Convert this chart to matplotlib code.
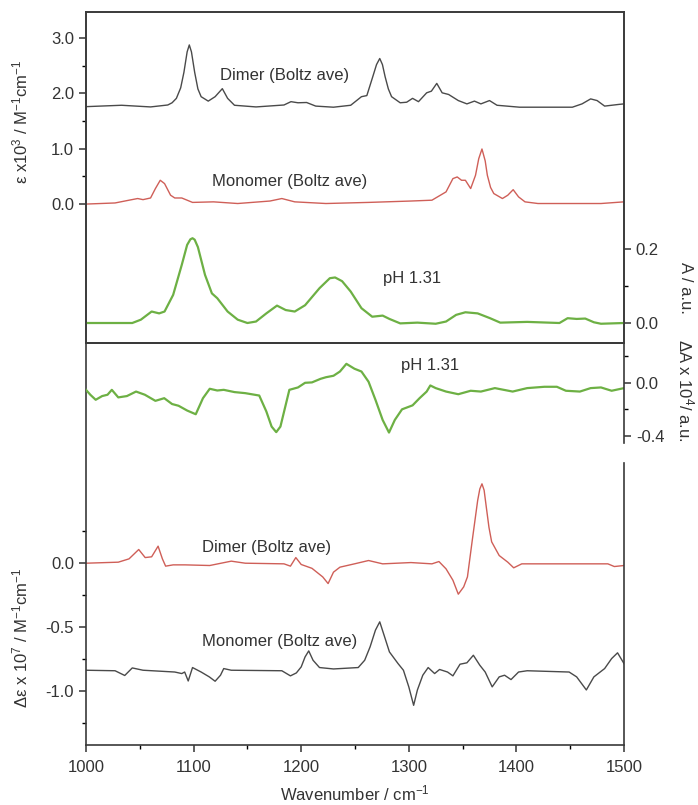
import matplotlib
matplotlib.use('Agg')
from matplotlib import pyplot as plt

plt.rcParams['font.family'] = ['Liberation Sans', 'DejaVu Sans']
plt.rcParams['mathtext.fontset'] = 'custom'
plt.rcParams['mathtext.rm'] = 'Liberation Sans'
plt.rcParams['mathtext.it'] = 'Liberation Sans:italic'

# --- top panel: absorption (eps x 1e3) ---
dimer_abs_x = [1000, 1033, 1060, 1076, 1080, 1084, 1088, 1091, 1094, 1096, 1098, 1101, 1104, 1107, 1113.6,
               1120, 1126.7, 1131.6, 1138, 1158, 1184, 1190.5, 1197, 1205, 1213.5, 1230, 1246, 1256, 1261,
               1266.5, 1270, 1273, 1275.5, 1278, 1281, 1284, 1292, 1298, 1303.5, 1309, 1316.6, 1321, 1326,
               1331, 1337, 1346, 1354, 1361, 1367, 1375, 1382, 1403, 1452, 1461, 1469, 1475, 1482, 1495, 1500]
dimer_abs_y = [1.76, 1.785, 1.755, 1.79, 1.83, 1.91, 2.10, 2.38, 2.75, 2.875, 2.75, 2.38, 2.08, 1.94, 1.86,
               1.94, 2.085, 1.91, 1.785, 1.755, 1.79, 1.85, 1.83, 1.835, 1.77, 1.75, 1.785, 1.94, 1.96,
               2.30, 2.52, 2.63, 2.52, 2.30, 2.08, 1.94, 1.83, 1.84, 1.91, 1.85, 2.01, 2.04, 2.18,
               2.01, 1.98, 1.87, 1.81, 1.86, 1.81, 1.87, 1.785, 1.75, 1.75, 1.81, 1.90, 1.87, 1.77, 1.80, 1.81]

mono_abs_x = [1000, 1027, 1040, 1048, 1053, 1060, 1064.5, 1069, 1073, 1078.6, 1082.5, 1089, 1099,
              1118.5, 1141, 1171, 1182, 1194, 1223, 1262.6, 1302, 1321.5, 1334.6, 1341, 1345, 1349,
              1352.6, 1357.5, 1362, 1365, 1368, 1371, 1373, 1376, 1379, 1387, 1392, 1397, 1402, 1408,
              1420, 1478.6, 1500]
mono_abs_y = [0.0, 0.02, 0.07, 0.10, 0.08, 0.11, 0.28, 0.43, 0.37, 0.16, 0.11, 0.11, 0.03,
              0.04, 0.01, 0.055, 0.10, 0.04, 0.01, 0.03, 0.055, 0.07, 0.22, 0.46, 0.49, 0.43,
              0.43, 0.28, 0.52, 0.82, 0.995, 0.78, 0.52, 0.30, 0.19, 0.10, 0.16, 0.26, 0.13, 0.04,
              0.01, 0.01, 0.04]

# measured absorbance, pH 1.31 (A / a.u.)
ph_abs_x = [1000, 1043, 1051, 1061, 1068, 1073, 1081, 1089, 1094, 1097, 1099, 1101, 1104, 1110.6, 1117,
            1122, 1131.6, 1141, 1150, 1158, 1167.6, 1177.5, 1185.6, 1194, 1203.6, 1217, 1226.6, 1231.5,
            1238, 1246, 1256, 1266, 1275.7, 1282, 1292, 1308, 1325, 1334.6, 1344, 1352.6, 1364,
            1375.5, 1385, 1410, 1440, 1447.6, 1456, 1464, 1472, 1478.6, 1500]
ph_abs_y = [0.0, 0.0, 0.009, 0.031, 0.026, 0.031, 0.076, 0.157, 0.211, 0.226, 0.229, 0.225, 0.205, 0.13,
            0.080, 0.067, 0.031, 0.009, 0.0, 0.004, 0.026, 0.047, 0.035, 0.031, 0.048, 0.094, 0.121, 0.123,
            0.113, 0.085, 0.04, 0.017, 0.020, 0.011, -0.001, 0.001, -0.002, 0.004, 0.022, 0.029, 0.026,
            0.013, 0.001, 0.003, 0.0, 0.013, 0.011, 0.012, 0.002, -0.002, 0.0]

# --- bottom panel: VCD ---
ph_vcd_x = [1000, 1004, 1009, 1015, 1020, 1024, 1030, 1038, 1046.5, 1054.7, 1064.5, 1072.7, 1080,
            1086, 1094, 1102, 1108.7, 1115, 1122, 1128, 1138, 1148, 1161, 1167.6, 1172.5, 1176.8,
            1180.7, 1189, 1197, 1203.6, 1210, 1218, 1223, 1230, 1236, 1242, 1249.5, 1256, 1262.6,
            1269, 1275.7, 1281.6, 1287, 1293.7, 1303.5, 1310, 1316.6, 1320, 1325, 1334.6, 1346,
            1357.5, 1367, 1380, 1396.5, 1410, 1426, 1437.6, 1446, 1459, 1469, 1478.6, 1488.5, 1500]
ph_vcd_y = [-0.053, -0.09, -0.128, -0.10, -0.09, -0.053, -0.11, -0.10, -0.066, -0.09, -0.136, -0.116, -0.16,
            -0.173, -0.209, -0.237, -0.116, -0.045, -0.058, -0.053, -0.07, -0.078, -0.096, -0.216, -0.33, -0.372,
            -0.33, -0.053, -0.035, 0.0, 0.003, 0.03, 0.042, 0.053, 0.085, 0.143, 0.106, 0.085, 0.008,
            -0.128, -0.28, -0.375, -0.28, -0.2, -0.17, -0.116, -0.066, -0.02, -0.04, -0.066, -0.086,
            -0.06, -0.066, -0.04, -0.066, -0.04, -0.03, -0.03, -0.06, -0.066, -0.04, -0.035, -0.06, -0.04]

dimer_vcd_x = [1000, 1030, 1040, 1049, 1055, 1061, 1067, 1071, 1074, 1081, 1092, 1115, 1135, 1148,
               1184, 1190, 1195, 1200, 1210, 1220, 1225, 1230, 1236, 1249.5, 1262.6, 1275.7, 1302,
               1321.5, 1328, 1334.6, 1341, 1346, 1351, 1354.5, 1359, 1364, 1366, 1368, 1370, 1372,
               1374.5, 1377, 1384, 1392, 1397.5, 1405, 1485, 1491, 1500]
dimer_vcd_y = [0.0, 0.008, 0.034, 0.107, 0.044, 0.05, 0.133, 0.034, -0.023, -0.013, -0.013, -0.018, 0.016, 0.0,
               -0.005, -0.023, 0.044, -0.01, -0.04, -0.107, -0.159, -0.07, -0.031, -0.005, 0.021, -0.005, 0.005,
               -0.005, 0.013, -0.044, -0.133, -0.242, -0.185, -0.107, 0.18, 0.49, 0.58, 0.62, 0.57, 0.44,
               0.28, 0.167, 0.06, 0.008, -0.036, -0.005, -0.005, -0.026, -0.018]

mono_vcd_x = [1000, 1027, 1036, 1043, 1053, 1082.5, 1089, 1091.7, 1095, 1099, 1107, 1114.6, 1120, 1125,
              1128, 1135, 1182, 1190, 1195.5, 1200, 1203.6, 1207, 1211, 1217, 1230, 1253, 1259, 1264,
              1269, 1273, 1277, 1282, 1290, 1295, 1300, 1304.5, 1308, 1313, 1318, 1324, 1328.6, 1336,
              1341, 1347.6, 1354, 1360, 1366, 1371, 1377.5, 1384, 1389, 1395, 1402, 1410, 1449, 1456,
              1465, 1472, 1482, 1488.5, 1494, 1500]
mono_vcd_y = [-0.836, -0.84, -0.877, -0.818, -0.836, -0.85, -0.862, -0.85, -0.92, -0.815, -0.85, -0.888, -0.922, -0.875,
              -0.823, -0.836, -0.84, -0.88, -0.857, -0.81, -0.732, -0.685, -0.758, -0.815, -0.826, -0.815, -0.758, -0.654,
              -0.523, -0.458, -0.562, -0.693, -0.784, -0.836, -0.966, -1.11, -0.99, -0.875, -0.815, -0.862, -0.83, -0.85,
              -0.88, -0.789, -0.778, -0.719, -0.797, -0.85, -0.966, -0.888, -0.875, -0.909, -0.85, -0.84, -0.85, -0.888,
              -0.99, -0.888, -0.823, -0.745, -0.70, -0.784]

GREY = '#4a4a4a'
RED = '#cf5f58'
GREEN = '#6db044'
TXT = '#333333'
FS = 12


def style(ax):
    for s in ax.spines.values():
        s.set_color('#3a3a3a')
        s.set_linewidth(1.2)
    ax.tick_params(colors=TXT, labelsize=FS, direction='out', length=5, width=1.1)
    ax.tick_params(which='minor', direction='out', length=3, width=1.0)


fig = plt.figure(figsize=(6.98, 8.05), dpi=100)
ax1 = fig.add_axes([86 / 698, 1 - 343 / 805, 538 / 698, 331 / 805])
ax2 = fig.add_axes([86 / 698, 1 - 745 / 805, 538 / 698, 402 / 805])
ax1r = ax1.twinx()
ax2r = ax2.twinx()

kw = dict(solid_joinstyle='round')
ax1.plot(dimer_abs_x, dimer_abs_y, color=GREY, lw=1.0, **kw)
ax1.plot(mono_abs_x, mono_abs_y, color=RED, lw=1.0, **kw)
ax1r.plot(ph_abs_x, ph_abs_y, color=GREEN, lw=1.6, **kw)

ax2.plot(dimer_vcd_x, dimer_vcd_y, color=RED, lw=1.0, **kw)
ax2.plot(mono_vcd_x, mono_vcd_y, color=GREY, lw=1.0, **kw)
ax2r.plot(ph_vcd_x, ph_vcd_y, color=GREEN, lw=1.6, **kw)

for ax in (ax1, ax1r, ax2, ax2r):
    ax.set_xlim(1000, 1500)
    style(ax)

ax1.set_ylim(-2.51, 3.47)
ax1.set_yticks([0, 1, 2, 3])
ax1.set_yticks([0.5, 1.5, 2.5], minor=True)
ax1.set_yticklabels(['0.0', '1.0', '2.0', '3.0'])
ax1.set_xticks([])
ax1.set_ylabel(r'ε x10$^3$ / M$^{-1}$cm$^{-1}$', fontsize=FS, color=TXT)
ax1.yaxis.set_label_coords(-0.104, 0.668)

ax1r.set_ylim(-0.054, 0.84)
ax1r.set_yticks([0.0, 0.2])
ax1r.set_yticks([0.1], minor=True)
ax1r.set_yticklabels(['0.0', '0.2'])
ax1r.set_ylabel('A / a.u.', fontsize=FS, color=TXT, rotation=-90)
ax1r.yaxis.set_label_coords(1.129, 0.166)

ax2.set_ylim(-1.42, 1.72)
ax2.set_yticks([-1.0, -0.5, 0.0])
ax2.set_yticks([-1.25, -0.75, -0.25, 0.25], minor=True)
ax2.set_yticklabels(['-1.0', '-0.5', '0.0'])
ax2.set_xticks([1000, 1100, 1200, 1300, 1400, 1500])
ax2.set_xticks([1050, 1150, 1250, 1350, 1450], minor=True)
ax2.tick_params(axis='x', pad=6)
ax2.set_xlabel(r'Wavenumber / cm$^{-1}$', fontsize=FS, color=TXT, labelpad=6)
ax2.set_ylabel(r'Δε x 10$^7$ / M$^{-1}$cm$^{-1}$', fontsize=FS, color=TXT)
ax2.yaxis.set_label_coords(-0.104, 0.266)
ax2.spines['right'].set_bounds(-1.42, 0.78)

ax2r.set_ylim(-2.73, 0.30)
ax2r.set_yticks([-0.4, 0.0])
ax2r.set_yticks([-0.2, 0.2], minor=True)
ax2r.set_yticklabels(['-0.4', '0.0'])
ax2r.set_ylabel(r'ΔA x 10$^4$/ a.u.', fontsize=FS, color=TXT, rotation=-90)
ax2r.yaxis.set_label_coords(1.133, 0.883)
ax2r.spines['right'].set_bounds(-0.45, 0.30)
ax2r.spines['bottom'].set_visible(False)
ax2r.spines['left'].set_visible(False)

ax1.text(1185, 2.33, 'Dimer (Boltz ave)', ha='center', va='center', fontsize=FS, color=TXT)
ax1.text(1189, 0.40, 'Monomer (Boltz ave)', ha='center', va='center', fontsize=FS, color=TXT)
ax1r.text(1303, 0.119, 'pH 1.31', ha='center', va='center', fontsize=FS, color=TXT)
ax2r.text(1320, 0.13, 'pH 1.31', ha='center', va='center', fontsize=FS, color=TXT)
ax2.text(1168, 0.12, 'Dimer (Boltz ave)', ha='center', va='center', fontsize=FS, color=TXT)
ax2.text(1180, -0.61, 'Monomer (Boltz ave)', ha='center', va='center', fontsize=FS, color=TXT)

fig.savefig('out.png', dpi=100)
